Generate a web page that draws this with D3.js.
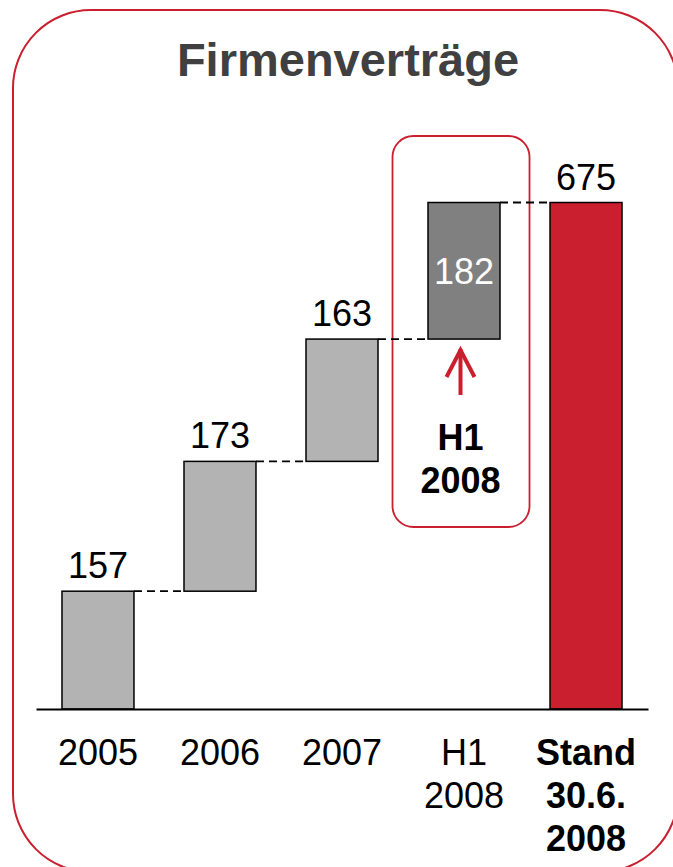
<!DOCTYPE html>
<html>
<head>
<meta charset="utf-8">
<script src="https://cdn.jsdelivr.net/npm/d3@7"></script>
<style>
  body { margin: 0; background: #fff; }
  svg text { font-family: "Liberation Sans", Arial, sans-serif; }
</style>
</head>
<body>
<div id="chart"></div>
<script>
// Data
var categories = ["2005", "2006", "2007", "H1 2008", "Stand 30.6. 2008"],
    tickLines = [["2005"], ["2006"], ["2007"], ["H1", "2008"], ["Stand", "30.6.", "2008"]],
    increments = [157, 173, 163, 182],
    total = 675,
    title = "Firmenverträge",
    highlightLines = ["H1", "2008"];

var RED = "#c91f2e",
    width = 673,
    height = 867;

// Build waterfall rows
var rows = [], run = 0;
increments.forEach(function(v, i) {
  rows.push({cat: categories[i], start: run, end: run + v, value: v, kind: i === 3 ? "h1" : "step"});
  run += v;
});
rows.push({cat: categories[4], start: 0, end: total, value: total, kind: "total"});

var svg = d3.select("#chart").append("svg")
    .attr("width", width)
    .attr("height", height);

// Outer frame
svg.append("rect")
  .attr("x", 13).attr("y", 10)
  .attr("width", 665).attr("height", 862)
  .attr("rx", 78).attr("ry", 78)
  .attr("fill", "none")
  .attr("stroke", RED)
  .attr("stroke-width", 2);

// Title
svg.append("text")
  .attr("x", 348).attr("y", 76)
  .attr("text-anchor", "middle")
  .style("font-size", "47px")
  .style("font-weight", "bold")
  .style("fill", "#404040")
  .text(title);

var x = d3.scaleBand().domain(categories).range([36, 648])
      .paddingInner(0.41).paddingOuter(0.213),
    y = d3.scaleLinear().domain([0, total]).range([709, 202.5]);

// Highlight box around H1 column (sits a little left of the bar centre)
var hx = x(categories[3]) + x.bandwidth() / 2 - 3.5;
svg.append("rect")
  .attr("x", hx - 68).attr("y", 136)
  .attr("width", 137).attr("height", 391)
  .attr("rx", 21).attr("ry", 21)
  .attr("fill", "none")
  .attr("stroke", RED)
  .attr("stroke-width", 1.8);

// Connector dashes
svg.selectAll("line.conn")
  .data(rows.slice(0, -1))
.enter().append("line")
  .attr("class", "conn")
  .attr("x1", function(d) { return x(d.cat) + x.bandwidth(); })
  .attr("x2", function(d, i) { return x(rows[i + 1].cat); })
  .attr("y1", function(d) { return y(d.end); })
  .attr("y2", function(d) { return y(d.end); })
  .attr("stroke", "#000")
  .attr("stroke-width", 1.8)
  .attr("stroke-dasharray", "8,5");

// Bars
svg.selectAll("rect.bar")
  .data(rows)
.enter().append("rect")
  .attr("class", "bar")
  .attr("x", function(d) { return x(d.cat); })
  .attr("width", x.bandwidth())
  .attr("y", function(d) { return y(d.end); })
  .attr("height", function(d) { return y(d.start) - y(d.end); })
  .attr("fill", function(d) {
    if (d.kind === "total") return RED;
    if (d.kind === "h1") return "#808080";
    return "#b3b3b3";
  })
  .attr("stroke", "#000")
  .attr("stroke-width", 1.5);

// Value labels
svg.selectAll("text.val")
  .data(rows)
.enter().append("text")
  .attr("class", "val")
  .attr("x", function(d) { return x(d.cat) + x.bandwidth() / 2; })
  .attr("y", function(d) {
    if (d.kind === "h1") return (y(d.start) + y(d.end)) / 2 + 13;
    return y(d.end) - 13;
  })
  .attr("text-anchor", "middle")
  .style("font-size", "36px")
  .style("fill", function(d) { return d.kind === "h1" ? "#fff" : "#000"; })
  .text(function(d) { return d.value; });

// Arrow under H1 bar
var arrow = svg.append("g")
  .attr("stroke", RED)
  .attr("stroke-width", 4)
  .attr("fill", "none")
  .attr("stroke-linecap", "butt");
arrow.append("line").attr("x1", hx).attr("x2", hx).attr("y1", 349).attr("y2", 395);
arrow.append("path")
  .attr("stroke-linejoin", "miter")
  .attr("d", "M" + (hx - 14) + ",377L" + hx + ",350L" + (hx + 14) + ",377");

// Highlight caption
svg.append("text")
  .attr("x", hx).attr("y", 450)
  .attr("text-anchor", "middle")
  .style("font-size", "36px")
  .style("font-weight", "bold")
  .selectAll("tspan")
  .data(highlightLines)
.enter().append("tspan")
  .attr("x", hx)
  .attr("dy", function(d, i) { return i === 0 ? 0 : 43; })
  .text(function(d) { return d; });

// X axis
var axis = svg.append("g")
  .attr("transform", "translate(0,709)")
  .call(d3.axisBottom(x).tickSize(0).tickSizeOuter(0).tickPadding(0));

axis.select(".domain")
  .attr("stroke", "#000")
  .attr("stroke-width", 2.2);

axis.selectAll(".tick text").each(function(d, i) {
  var t = d3.select(this);
  t.text(null)
    .attr("y", 56)
    .attr("dy", null)
    .style("font-size", "36px")
    .style("font-family", "'Liberation Sans', Arial, sans-serif")
    .style("font-weight", i === 4 ? "bold" : "normal")
    .attr("fill", "#000");
  tickLines[i].forEach(function(line, j) {
    t.append("tspan")
      .attr("x", 0)
      .attr("dy", j === 0 ? 0 : 43)
      .text(line);
  });
});
</script>
</body>
</html>
